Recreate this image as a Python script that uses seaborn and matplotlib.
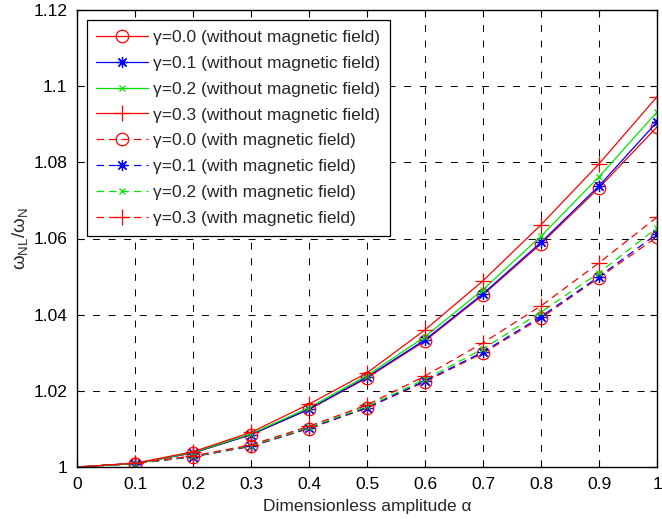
import matplotlib
matplotlib.use("Agg")
import matplotlib.pyplot as plt
import seaborn as sns
from matplotlib.ticker import FuncFormatter

# Dimensionless amplitude
alpha = [0.0, 0.1, 0.2, 0.3, 0.4, 0.5, 0.6, 0.7, 0.8, 0.9, 1.0]

# Frequency ratio, without magnetic field
no_field_g00 = [1.0, 1.0009, 1.0037, 1.0085, 1.0151, 1.0234, 1.0331, 1.0452, 1.0586, 1.0733, 1.0893]
no_field_g01 = [1.0, 1.0009, 1.0037, 1.0085, 1.0152, 1.0236, 1.0334, 1.0455, 1.0590, 1.0738, 1.0906]
no_field_g02 = [1.0, 1.0009, 1.0038, 1.0087, 1.0156, 1.0240, 1.0342, 1.0466, 1.0606, 1.0762, 1.0932]
no_field_g03 = [1.0, 1.0010, 1.0040, 1.0091, 1.0165, 1.0247, 1.0360, 1.0489, 1.0636, 1.0796, 1.0972]

# Frequency ratio, with magnetic field
field_g00 = [1.0, 1.0009, 1.0027, 1.0054, 1.0101, 1.0155, 1.0224, 1.0299, 1.0391, 1.0497, 1.0604]
field_g01 = [1.0, 1.0009, 1.0027, 1.0055, 1.0102, 1.0156, 1.0226, 1.0302, 1.0395, 1.0500, 1.0612]
field_g02 = [1.0, 1.0009, 1.0028, 1.0056, 1.0104, 1.0159, 1.0230, 1.0310, 1.0407, 1.0510, 1.0628]
field_g03 = [1.0, 1.0010, 1.0029, 1.0058, 1.0107, 1.0163, 1.0239, 1.0326, 1.0423, 1.0536, 1.0656]

gammas = ["0.0", "0.1", "0.2", "0.3"]
x_ticks = [0, 0.1, 0.2, 0.3, 0.4, 0.5, 0.6, 0.7, 0.8, 0.9, 1]
y_ticks = [1.0, 1.02, 1.04, 1.06, 1.08, 1.1, 1.12]

sns.set_style("ticks")
plt.rcParams["font.family"] = ["Liberation Sans", "DejaVu Sans"]
plt.rcParams["mathtext.fontset"] = "custom"
plt.rcParams["mathtext.rm"] = "Liberation Sans"
plt.rcParams["mathtext.it"] = "Liberation Sans:italic"

FS = 12.5

fig = plt.figure(figsize=(6.62, 5.19), dpi=100)
ax = fig.add_axes([77 / 662, 52 / 519, 580 / 662, 457 / 519])

colors = [(1, 0, 0), (0, 0, 1), (0, 0.9, 0), (1, 0, 0)]
asterisk = (8, 2, 0)
markers = ["o", asterisk, "x", "+"]
msizes = [9, 8, 5, 11]

groups = [
    ([no_field_g00, no_field_g01, no_field_g02, no_field_g03], "-", "without magnetic field"),
    ([field_g00, field_g01, field_g02, field_g03], (0, (6, 4)), "with magnetic field"),
]

for series, ls, tag in groups:
    for g, y, c, m, ms in zip(gammas, series, colors, markers, msizes):
        sns.lineplot(
            x=alpha, y=y, ax=ax, color=c, linestyle=ls, linewidth=0.9,
            marker=m, markersize=ms, markerfacecolor="none",
            markeredgecolor=c, markeredgewidth=0.9,
            markevery=slice(1, None),
            label=f"\u03b3={g} ({tag})",
        )

ax.set_xlim(0, 1)
ax.set_ylim(1.0, 1.12)
ax.set_xticks(x_ticks)
ax.set_yticks(y_ticks)
ax.xaxis.set_major_formatter(FuncFormatter(lambda v, p: f"{v:g}"))
ax.yaxis.set_major_formatter(FuncFormatter(lambda v, p: f"{v:g}"))
ax.tick_params(direction="in", top=True, right=True, length=5, width=0.8,
               labelsize=FS, colors="black", pad=7)
for s in ax.spines.values():
    s.set_linewidth(1.0)
    s.set_color("black")

ax.grid(True, color="black", linestyle=(0, (7.2, 8.8)), linewidth=0.7)

ax.set_xlabel("Dimensionless amplitude \u03b1", fontsize=FS, labelpad=5)
ax.set_ylabel(r"$\mathregular{\omega_{NL}/\omega_{N}}$", fontsize=FS + 1, labelpad=2)

leg = ax.legend(loc="upper left", bbox_to_anchor=(0.017, 0.978), fontsize=FS,
                handlelength=3.0, handletextpad=0.25, labelspacing=0.62,
                borderpad=0.55, borderaxespad=0, frameon=True, fancybox=False,
                framealpha=1, edgecolor="black")
leg.get_frame().set_linewidth(0.9)

fig.savefig("out.png", dpi=100, facecolor="white")
